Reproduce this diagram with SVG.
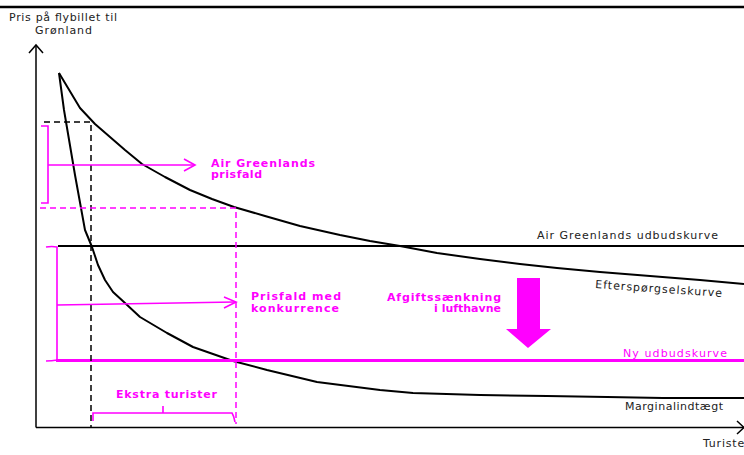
<svg xmlns="http://www.w3.org/2000/svg" width="744" height="455" viewBox="0 0 744 455">
<style>
.lbl{font-family:"DejaVu Sans",Verdana,sans-serif;font-size:11px;fill:#222}
.mb{font-family:"DejaVu Sans",Verdana,sans-serif;font-size:11px;font-weight:bold;fill:#ff00ff}
.mg{fill:#ff00ff}
.k{stroke:#000;fill:none}
.m{stroke:#ff00ff;fill:none}
.dash{stroke-dasharray:6 4}
</style>
<rect width="744" height="455" fill="#fff"/>
<line x1="0" y1="7" x2="744" y2="7" stroke="#000" stroke-width="2.5"/>
<g id="axes">
<line class="k" x1="36" y1="45" x2="36" y2="427.5" stroke-width="1.5"/>
<line class="k" x1="36" y1="427.5" x2="744" y2="427.5" stroke-width="1.5"/>
<polyline class="k" points="29,53 36,45 43,53" stroke-width="1.5"/>
<polyline class="k" points="737,421 744,427.5 737,434" stroke-width="1.5"/>
<text class="lbl" x="9" y="21" textLength="108" lengthAdjust="spacing">Pris på flybillet  til</text>
<text class="lbl" x="35" y="34" textLength="57" lengthAdjust="spacing">Grønland</text>
<text class="lbl" x="703" y="447" letter-spacing="0.8">Turister</text>
</g>
<g id="demand-curve">
<polyline class="k" stroke-width="2" stroke-linejoin="round" points="59,73 68,88 80,108 95,124 110,137 125,150 142,164 165,177 190,190 212,199 234,207 265,216 300,226 340,235 370,241 400,246 437,253 480,259 520,264 557,268 600,272 650,276 700,280 744,284"/>
<text class="lbl" transform="translate(595,288) rotate(4)" textLength="127" lengthAdjust="spacing">Efterspørgselskurve</text>
</g>
<g id="marginal-revenue">
<polyline class="k" stroke-width="2" stroke-linejoin="round" points="59,73 64,110 75,175 85,230 92,247 98,265 105,280 113,292 125,303 140,317 167,333 193,347 233,361 267,370 317,382 380,390 413,393 480,395 547,396 607,397 663,398 744,398"/>
<text class="lbl" x="625" y="410" textLength="98" lengthAdjust="spacing">Marginalindtægt</text>
</g>
<g id="supply-air-greenland">
<line class="k" x1="58" y1="246" x2="744" y2="246" stroke-width="2"/>
<text class="lbl" x="537" y="239" textLength="181" lengthAdjust="spacing">Air Greenlands udbudskurve</text>
</g>
<g id="supply-new">
<line class="m" x1="56" y1="360.5" x2="744" y2="360.5" stroke-width="3"/>
<text class="lbl" x="623" y="357" style="fill:#ff00ff" textLength="104" lengthAdjust="spacing">Ny udbudskurve</text>
</g>
<g id="tax-arrow">
<polygon class="mg" points="517,278 540,278 540,329 551,329 528,348 506,329 517,329"/>
<text class="mb" x="387" y="301" textLength="114" lengthAdjust="spacing">Afgiftssænkning</text>
<text class="mb" x="501" y="312" text-anchor="end">i lufthavne</text>
</g>
<g id="connectors">
<polyline class="k dash" stroke-width="1.5" points="44,122 91,122 91,427"/>
<polyline class="m dash" stroke-width="1.5" points="40,208 236,208 236,424"/>
<path class="m" stroke-width="1.6" d="M41,126 H48 V203 H41"/>
<line class="m" x1="48" y1="165" x2="194" y2="165" stroke-width="1.6"/>
<polyline class="m" stroke-width="1.6" points="184,159 195,165 184,171"/>
<path class="m" stroke-width="1.6" d="M46,247 Q52,246 57,247 V360 Q52,361 46,361"/>
<line class="m" x1="57" y1="305" x2="235" y2="302" stroke-width="1.6"/>
<polyline class="m" stroke-width="1.6" points="224,297 236,302 224,308"/>
<path class="m" stroke-width="1.6" d="M93,421 V413 H163 V406 M163,413 H232 Q234,416 235,422"/>
</g>
<g id="labels">
<text class="mb" x="211" y="167" textLength="104" lengthAdjust="spacing">Air Greenlands</text>
<text class="mb" x="211" y="178" textLength="51" lengthAdjust="spacing">prisfald</text>
<text class="mb" x="251" y="300" textLength="90" lengthAdjust="spacing">Prisfald  med</text>
<text class="mb" x="251" y="312" textLength="88" lengthAdjust="spacing">konkurrence</text>
<text class="mb" x="116" y="398" textLength="101" lengthAdjust="spacing">Ekstra turister</text>
</g>
</svg>
